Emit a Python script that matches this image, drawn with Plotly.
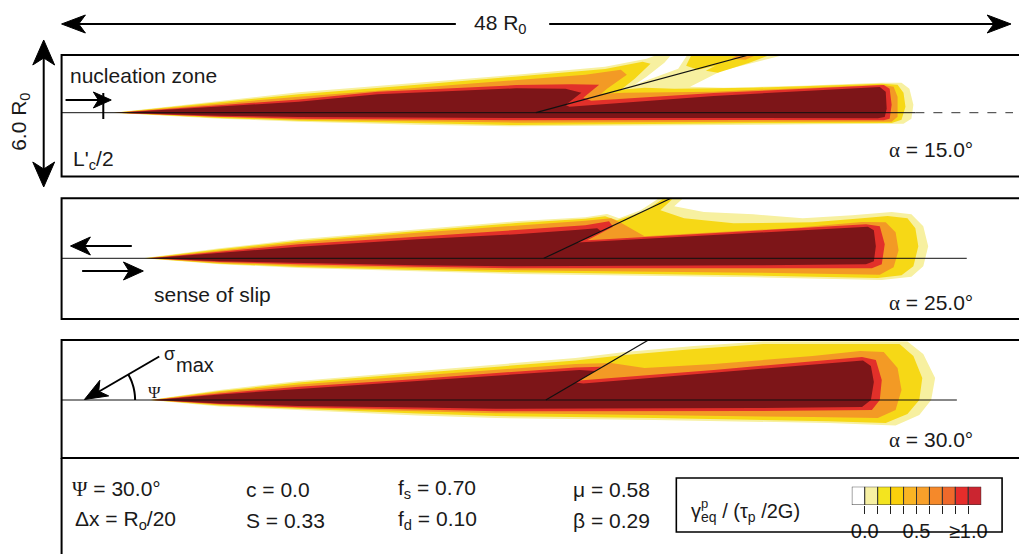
import math
import plotly.graph_objects as go

W, H = 1019, 554

# ---------------- data (units of R0, fault at y = 0) ----------------
ALPHAS = [15.0, 25.0, 30.0]            # branch angle per panel (deg)
BRANCH_X0 = [24.0, 24.4, 24.5]         # where the branch leaves the main fault
FAULT_END = [43.2, 45.8, 45.3]         # end of drawn main fault
PANEL_YRANGE = [[-3.19, 2.885], [-3.035, 3.0], [-2.9, 3.0]]
X_RANGE = [0.0, 48.14]
PSI = 30.0
SERIF = "<span style='font-family:Liberation Serif'>"
ALPHA_LABELS = [SERIF + "α</span> = 15.0°", SERIF + "α</span> = 25.0°", SERIF + "α</span> = 30.0°"]

LEVEL_COLORS = ["#f7f0a0", "#f6d816", "#f39a25", "#e2302a", "#7d1518"]

# panel 1 contour polygons (outer -> inner)
P1_L0 = [(2.6, 0.0), (8, 0.6), (12, 1.02), (18, 1.5), (23, 1.9), (27.5, 2.3), (29.6, 2.7), (30.3, 2.95),
         (30.9, 2.95), (30.5, 2.5), (29.6, 1.8), (29.0, 1.4), (31.2, 2.2), (31.7, 2.95), (36.8, 2.95),
         (35.2, 2.55), (33.4, 2.1), (32.4, 1.6), (31.8, 1.3), (33.5, 1.25), (37.5, 1.35), (41.5, 1.5),
         (42.5, 1.5), (42.9, 1.2), (43.1, 0.4), (43.0, -0.3), (42.6, -0.55), (38, -0.58), (30, -0.62),
         (23, -0.68), (18, -0.6), (12, -0.45), (8, -0.3)]
P1_L1 = [(2.65, 0.0), (8, 0.52), (12, 0.92), (18, 1.4), (23, 1.8), (27.5, 2.18), (29.4, 2.55), (29.8, 2.45),
         (29.0, 1.7), (28.3, 1.15), (29.5, 1.25), (31.0, 1.2), (35, 1.25), (41.5, 1.45), (42.3, 1.4),
         (42.6, 1.0), (42.7, 0.3), (42.5, -0.35), (42.0, -0.52), (35, -0.53), (23, -0.62), (12, -0.4),
         (8, -0.26)]
P1_L2 = [(2.7, 0.0), (8, 0.45), (12, 0.8), (18, 1.25), (23, 1.62), (26.5, 1.9), (28.3, 2.15), (28.6, 1.9),
         (27.6, 1.2), (27.3, 0.95), (28.5, 1.0), (33, 1.05), (41.5, 1.4), (42.1, 1.3), (42.3, 0.8),
         (42.3, -0.2), (42.0, -0.45), (35, -0.45), (23, -0.5), (12, -0.35), (8, -0.22)]
P1_L3 = [(2.75, 0.0), (8, 0.38), (12, 0.66), (16, 1.05), (23, 1.38), (25.8, 1.42), (27.2, 1.4), (26.4, 0.75),
         (26.8, 0.6), (33, 0.98), (41.6, 1.38), (41.9, 1.2), (42.0, 0.4), (41.9, -0.3), (41.6, -0.38),
         (35, -0.36), (23, -0.38), (12, -0.3), (8, -0.2)]
P1_L4 = [(2.8, 0.0), (8, 0.3), (12, 0.55), (16, 0.92), (23, 1.22), (25.5, 1.2), (26.3, 1.0), (25.5, 0.38),
         (25.7, 0.3), (33, 0.84), (41.4, 1.28), (41.7, 1.05), (41.75, 0.2), (41.65, -0.22), (41.3, -0.28),
         (35, -0.27), (23, -0.27), (12, -0.22), (8, -0.15)]
P1_STRIP_LEFT = [(31.6, 2.35), (31.9, 2.95), (34.6, 2.95), (33.3, 2.4), (32.2, 2.15)]
P1_STRIP_RIGHT = [(32.6, 2.1), (34.2, 2.95), (36.0, 2.95), (34.8, 2.5), (33.2, 2.0)]
P1_STRIP_RIGHT_IN = [(33.9, 2.7), (34.3, 2.95), (35.3, 2.95), (34.6, 2.65)]

# panel 2
P2_L0 = [(4.1, 0.0), (8, 0.5), (12, 0.95), (18, 1.45), (23, 1.85), (26.5, 2.05), (27.6, 2.22), (28.2, 2.0),
         (29.3, 2.4), (30.3, 3.05), (31.5, 3.05), (31.0, 2.6), (32.5, 2.32), (35, 2.2), (37.5, 2.0),
         (40, 2.15), (42.0, 2.32), (43.0, 2.2), (43.6, 1.6), (43.85, 0.6), (43.6, -0.4), (43.0, -0.92),
         (41.5, -1.08), (35, -0.95), (28, -0.85), (23, -0.78), (18, -0.65), (12, -0.48), (8, -0.3)]
P2_L1 = [(4.2, 0.0), (8, 0.45), (12, 0.88), (18, 1.37), (23, 1.76), (26.5, 1.98), (27.5, 2.1), (28.1, 1.9),
         (29.5, 2.35), (30.4, 2.95), (30.9, 2.95), (30.3, 2.4), (31.5, 2.0), (34, 1.75), (38, 1.8),
         (40.5, 2.0), (41.8, 2.12), (42.8, 2.0), (43.2, 1.5), (43.35, 0.6), (43.1, -0.4), (42.5, -0.85),
         (41.3, -0.98), (35, -0.86), (28, -0.77), (23, -0.7), (18, -0.58), (12, -0.43), (8, -0.27)]
P2_L2 = [(4.3, 0.0), (8, 0.4), (12, 0.8), (18, 1.28), (23, 1.62), (26.5, 1.88), (27.8, 2.0), (28.3, 1.78),
         (29.5, 1.1), (33, 1.3), (37, 1.52), (40.5, 1.82), (41.7, 1.8), (42.2, 1.3), (42.35, 0.4),
         (42.1, -0.45), (41.4, -0.82), (35, -0.72), (28, -0.66), (23, -0.6), (18, -0.5), (12, -0.37),
         (8, -0.23)]
P2_L3 = [(4.4, 0.0), (8, 0.33), (12, 0.7), (18, 1.08), (23, 1.4), (26.5, 1.65), (27.7, 1.85), (27.9, 1.58),
         (26.6, 0.9), (33, 1.27), (40.7, 1.7), (41.4, 1.6), (41.65, 0.7), (41.5, -0.3), (41.0, -0.5),
         (35, -0.5), (28, -0.5), (23, -0.5), (18, -0.42), (12, -0.3), (8, -0.18)]
P2_L4 = [(4.5, 0.0), (8, 0.28), (12, 0.58), (18, 0.95), (23, 1.2), (26.0, 1.42), (27.1, 1.5), (27.3, 1.35),
         (26.1, 0.79), (33, 1.16), (40.8, 1.58), (41.1, 1.4), (41.2, 0.6), (41.1, -0.15), (40.7, -0.3),
         (35, -0.35), (28, -0.38), (23, -0.4), (18, -0.35), (12, -0.25), (8, -0.15)]

# panel 3
P3_L0 = [(4.45, 0.0), (8, 0.5), (12, 0.95), (18, 1.45), (22, 1.8), (26, 2.1), (28.5, 2.4), (32, 2.7),
         (35.5, 2.92), (42.8, 2.92), (43.6, 2.3), (44.2, 1.1), (44.0, 0.0), (43.4, -0.75), (42.2, -1.27),
         (38.8, -1.15), (30, -1.0), (22, -0.9), (18, -0.78), (12, -0.52), (8, -0.32)]
P3_L1 = [(4.5, 0.0), (8, 0.45), (12, 0.87), (18, 1.35), (22, 1.68), (26, 1.98), (28.5, 2.25), (32, 2.55),
         (35.5, 2.8), (42.4, 2.8), (43.1, 2.2), (43.55, 1.1), (43.4, 0.0), (42.8, -0.7), (41.7, -1.15),
         (38.8, -1.06), (30, -0.9), (22, -0.8), (18, -0.68), (12, -0.46), (8, -0.28)]
P3_L2 = [(4.55, 0.0), (8, 0.4), (12, 0.77), (18, 1.22), (22, 1.5), (26, 1.8), (27.8, 1.85), (29.5, 1.6),
         (33, 1.8), (38, 2.2), (40.4, 2.45), (41.6, 2.4), (42.3, 1.6), (42.5, 0.5), (42.2, -0.5),
         (41.3, -0.9), (38, -0.85), (30, -0.75), (22, -0.66), (18, -0.56), (12, -0.4), (8, -0.24)]
P3_L3 = [(4.6, 0.0), (8, 0.33), (12, 0.66), (18, 1.05), (22, 1.35), (26, 1.62), (27.3, 1.66), (26.2, 0.98),
         (33, 1.5), (40.5, 2.15), (41.2, 2.0), (41.5, 1.0), (41.4, 0.0), (41.0, -0.5), (35, -0.55),
         (30, -0.55), (22, -0.56), (18, -0.48), (12, -0.36), (8, -0.2)]
P3_L4 = [(4.7, 0.0), (8, 0.28), (12, 0.55), (18, 0.95), (22, 1.2), (26.2, 1.5), (27.0, 1.45), (26.0, 0.87),
         (26.4, 0.82), (33, 1.36), (40.55, 1.98), (40.95, 1.7), (41.1, 0.9), (40.95, 0.0), (40.5, -0.35),
         (35, -0.4), (30, -0.42), (22, -0.44), (18, -0.38), (12, -0.3), (8, -0.17)]

# colour key
CBAR_COLORS = ["#ffffff", "#f7f0a3", "#f3e41f", "#fbd00b", "#fab424", "#f8a02a",
               "#f5892a", "#ef692b", "#e62d2b", "#cb2530"]
CBAR_TICKVALS = [1, 2, 3, 4, 5, 6, 7, 8, 9]
CBAR_TICKTEXT = ["0.0", "", "", "", "0.5", "", "", "", "≥1.0"]

PARAM_ROW1 = [SERIF + "Ψ</span> = 30.0°", "c = 0.0", "f<sub>s</sub> = 0.70", "μ = 0.58"]
PARAM_ROW2 = ["Δx = R<sub>o</sub>/20", "S = 0.33", "f<sub>d</sub> = 0.10", "β = 0.29"]

# ---------------- layout geometry (pixels) ----------------
PANEL_PX = [(55, 176.5), (198.3, 319), (340, 458)]   # top, bottom
X_LEFT = 61
FONT = "Liberation Sans"
FS = 21


def pxx(x):
    return x / W


def pxy(y):
    return 1 - y / H


fig = go.Figure()

panels = [
    [P1_L0, P1_L1, P1_L2, P1_L3, P1_L4],
    [P2_L0, P2_L1, P2_L2, P2_L3, P2_L4],
    [P3_L0, P3_L1, P3_L2, P3_L3, P3_L4],
]
extras = {0: [(P1_STRIP_LEFT, 1), (P1_STRIP_RIGHT, 1), (P1_STRIP_RIGHT_IN, 2)]}

for i, layers in enumerate(panels):
    xa = "x" if i == 0 else f"x{i + 1}"
    ya = "y" if i == 0 else f"y{i + 1}"
    polys = [(poly, li) for li, poly in enumerate(layers)]
    polys = polys[:2] + extras.get(i, []) + polys[2:]
    for poly, li in polys:
        xs = [p[0] for p in poly] + [poly[0][0]]
        ys = [p[1] for p in poly] + [poly[0][1]]
        fig.add_trace(go.Scatter(x=xs, y=ys, mode="lines", fill="toself",
                                 fillcolor=LEVEL_COLORS[li], line=dict(width=0, color=LEVEL_COLORS[li]),
                                 hoverinfo="skip", showlegend=False, xaxis=xa, yaxis=ya))
    # main fault
    fig.add_trace(go.Scatter(x=[X_RANGE[0], FAULT_END[i]], y=[0, 0], mode="lines",
                             line=dict(color="#111111", width=1), hoverinfo="skip",
                             showlegend=False, xaxis=xa, yaxis=ya))
    if i == 0:
        fig.add_trace(go.Scatter(x=[FAULT_END[i], X_RANGE[1]], y=[0, 0], mode="lines",
                                 line=dict(color="#333333", width=1, dash="dash"), hoverinfo="skip",
                                 showlegend=False, xaxis=xa, yaxis=ya))
    # branch fault
    ytop = PANEL_YRANGE[i][1]
    x1 = BRANCH_X0[i] + ytop / math.tan(math.radians(ALPHAS[i]))
    fig.add_trace(go.Scatter(x=[BRANCH_X0[i], x1], y=[0, ytop], mode="lines",
                             line=dict(color="#111111", width=1.2), hoverinfo="skip",
                             showlegend=False, xaxis=xa, yaxis=ya))

# colour key bars
fig.add_trace(go.Bar(x=[k + 0.5 for k in range(len(CBAR_COLORS))], y=[1] * len(CBAR_COLORS),
                     width=[1] * len(CBAR_COLORS),
                     marker=dict(color=CBAR_COLORS, line=dict(color="#333333", width=1)),
                     hoverinfo="skip", showlegend=False, xaxis="x4", yaxis="y4"))

layout = dict(width=W, height=H, margin=dict(l=0, r=0, t=0, b=0),
              paper_bgcolor="white", plot_bgcolor="rgba(0,0,0,0)", showlegend=False,
              bargap=0, font=dict(family=FONT, size=FS, color="#1a1a1a"))
for i, (top, bot) in enumerate(PANEL_PX):
    k = "" if i == 0 else str(i + 1)
    layout[f"xaxis{k}"] = dict(domain=[X_LEFT / W, 1.0], range=X_RANGE, visible=False,
                               anchor=f"y{k}", fixedrange=True)
    layout[f"yaxis{k}"] = dict(domain=[pxy(bot), pxy(top)], range=PANEL_YRANGE[i], visible=False,
                               anchor=f"x{k}", fixedrange=True)
layout["xaxis4"] = dict(domain=[856.7 / W, 987 / W], range=[0, 10], anchor="y4",
                        tickvals=CBAR_TICKVALS, ticktext=CBAR_TICKTEXT, ticks="outside",
                        ticklen=8, tickcolor="#222222", tickwidth=1, showgrid=False,
                        zeroline=False, showline=False, tickfont=dict(size=20, family=FONT),
                        fixedrange=True)
layout["yaxis4"] = dict(domain=[pxy(505), pxy(486.7)], range=[0, 1], visible=False, anchor="x4",
                        fixedrange=True)
fig.update_layout(**layout)

# ---------------- shapes ----------------
shapes = []


def seg(x0, y0, x1, y1, w=2.0):
    return dict(type="line", xref="paper", yref="paper", x0=pxx(x0), y0=pxy(y0), x1=pxx(x1), y1=pxy(y1),
                line=dict(color="black", width=w))


def head(tx, ty, fx, fy, L, hw, notch=0.28):
    d = math.hypot(tx - fx, ty - fy)
    ux, uy = (tx - fx) / d, (ty - fy) / d
    bx, by = tx - ux * L, ty - uy * L
    nx, ny = -uy, ux
    pts = [(tx, ty), (bx + nx * hw, by + ny * hw), (tx - ux * L * (1 - notch), ty - uy * L * (1 - notch)),
           (bx - nx * hw, by - ny * hw)]
    path = "M " + " L ".join(f"{pxx(x):.5f},{pxy(y):.5f}" for x, y in pts) + " Z"
    return dict(type="path", xref="paper", yref="paper", path=path, fillcolor="black",
                line=dict(color="black", width=1))


# panel frames
for top, bot in PANEL_PX:
    shapes.append(dict(type="rect", xref="paper", yref="paper", x0=pxx(X_LEFT), x1=1.02,
                       y0=pxy(bot), y1=pxy(top), line=dict(color="black", width=2)))
shapes.append(seg(X_LEFT, 458, X_LEFT, 570))
# legend frame
shapes.append(dict(type="rect", xref="paper", yref="paper", x0=pxx(680), x1=pxx(1008),
                   y0=pxy(532), y1=pxy(478), line=dict(color="black", width=1.6)))

# 48 R0 arrow
shapes += [seg(75, 24, 458, 24), seg(552, 24, 1004, 24),
           head(61, 24, 120, 24, 24, 9), head(1017, 24, 950, 24, 24, 9)]
# 6.0 R0 arrow
shapes += [seg(43, 55, 43, 172), head(43, 40, 43, 100, 25, 11), head(43, 187, 43, 120, 25, 11)]
# nucleation arrow
shapes += [seg(65, 100, 100, 100), head(111, 100, 65, 100, 18, 8), seg(103, 93, 103, 119)]
# sense of slip arrows
shapes += [seg(131.7, 246, 82, 246), head(70, 246, 131, 246, 20, 9),
           seg(81.7, 271, 132, 271), head(143.3, 271, 81, 271, 20, 9)]
# sigma max arrow + psi arc
cx, cy = 84, 400
c, s = math.cos(math.radians(PSI)), math.sin(math.radians(PSI))
tail = (cx + 87 * c, cy - 87 * s)
shapes += [seg(tail[0], tail[1], cx + 16 * c, cy - 16 * s), head(cx, cy - 0.5, tail[0], tail[1], 23, 9)]
r = 51
arc = [(cx + r * math.cos(math.radians(a)), cy - r * math.sin(math.radians(a)))
       for a in [PSI * t / 20 for t in range(21)]]
shapes.append(dict(type="path", xref="paper", yref="paper",
                   path="M " + " L ".join(f"{pxx(x):.5f},{pxy(y):.5f}" for x, y in arc),
                   line=dict(color="black", width=2)))
fig.update_layout(shapes=shapes)

# ---------------- text ----------------
ann = []


def text(t, x, y, size=FS, xa="left", angle=0, family=FONT):
    ann.append(dict(text=t, x=pxx(x), y=pxy(y), xref="paper", yref="paper", showarrow=False,
                    xanchor=xa, yanchor="middle", textangle=angle,
                    font=dict(size=size, family=family, color="#1a1a1a")))


text("48 R<sub>0</sub>", 503, 24, xa="center")
text("6.0 R<sub>0</sub>", 19, 122, xa="center", angle=-90)
text("nucleation zone", 67, 76)
text("L'<sub>c</sub>/2", 70, 160)
text("sense of slip", 152, 294)
text("σ", 162, 354, size=18)
text("max", 174, 365, size=20)
text("Ψ", 146, 392, size=17, family="Liberation Serif")
for i, (top, bot) in enumerate(PANEL_PX):
    text(ALPHA_LABELS[i], 892, [150, 303, 440][i])
col_x = [69, 245, 398, 574]
for j in range(4):
    text(PARAM_ROW1[j], col_x[j], 489)
    text(PARAM_ROW2[j], col_x[j] + (3 if j == 0 else 0), 520)
text("γ<sub>eq</sub> / (τ<sub>p</sub> /2G)", 693, 512, size=20)
text("p", 703, 503, size=13)
fig.update_layout(annotations=ann)

fig.write_html("out.html", config={"displayModeBar": False, "staticPlot": True},
               post_script="document.body.style.margin='0px';document.body.style.padding='0px';")
